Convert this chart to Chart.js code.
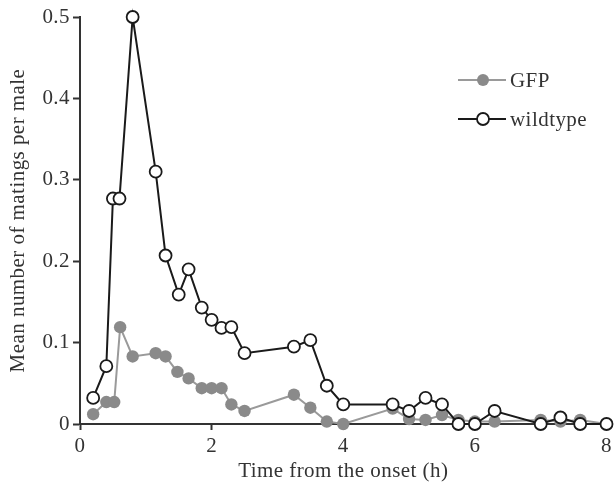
<!DOCTYPE html>
<html>
<head>
<meta charset="utf-8">
<script src="https://cdn.jsdelivr.net/npm/chart.js@4"></script>
<style>
  html, body { margin: 0; padding: 0; background: #fff; }
  #wrap { width: 616px; height: 487px; position: relative; }
</style>
</head>
<body>
<div id="wrap"><canvas id="c" width="616" height="487"></canvas></div>
<script>
// Data
const timesWildtype = [0.2, 0.4, 0.5, 0.6, 0.8, 1.15, 1.3, 1.5, 1.65, 1.85, 2.0, 2.15, 2.3, 2.5, 3.25, 3.5, 3.75, 4.0, 4.75, 5.0, 5.25, 5.5, 5.75, 6.0, 6.3, 7.0, 7.3, 7.6, 8.0];
const wildtypeValues = [0.032, 0.071, 0.277, 0.277, 0.5, 0.31, 0.207, 0.159, 0.19, 0.143, 0.128, 0.118, 0.119, 0.087, 0.095, 0.103, 0.047, 0.024, 0.024, 0.016, 0.032, 0.024, 0, 0, 0.016, 0, 0.008, 0, 0];
const timesGFP = [0.2, 0.4, 0.52, 0.61, 0.8, 1.15, 1.3, 1.48, 1.65, 1.85, 2.0, 2.15, 2.3, 2.5, 3.25, 3.5, 3.75, 4.0, 4.75, 5.0, 5.25, 5.5, 5.75, 6.0, 6.3, 7.0, 7.3, 7.6, 8.0];
const gfpValues = [0.012, 0.027, 0.027, 0.119, 0.083, 0.087, 0.083, 0.064, 0.056, 0.044, 0.044, 0.044, 0.024, 0.016, 0.036, 0.020, 0.003, 0, 0.019, 0.006, 0.005, 0.011, 0.005, 0.003, 0.003, 0.005, 0.003, 0.005, 0];
const seriesNames = ['GFP', 'wildtype'];
const xTitle = 'Time from the onset (h)';
const yTitle = 'Mean number of matings per male';

const FONT = "'Liberation Serif', 'Times New Roman', serif";
const FSIZE = 21;
const SPACING = '0.45px';
const AXIS = '#333333';
const GFP_LINE = '#9a9a9a';
const GFP_FILL = '#8a8a8a';
const WT_LINE = '#1a1a1a';

const toXY = (xs, ys) => xs.map((x, i) => ({ x: x, y: ys[i] }));

const spacingPlugin = {
  id: 'spacing',
  beforeLayout(chart) { chart.ctx.letterSpacing = SPACING; },
  beforeDraw(chart) { chart.ctx.letterSpacing = SPACING; }
};

const legendPlugin = {
  id: 'inlineLegend',
  afterDraw(chart) {
    const ctx = chart.ctx;
    const items = [
      { label: seriesNames[0], y: 80, line: GFP_LINE, fill: GFP_FILL, stroke: GFP_FILL, bw: 0 },
      { label: seriesNames[1], y: 119, line: WT_LINE, fill: '#ffffff', stroke: WT_LINE, bw: 1.8 }
    ];
    ctx.save();
    ctx.letterSpacing = SPACING;
    items.forEach(it => {
      ctx.strokeStyle = it.line;
      ctx.lineWidth = 2;
      ctx.beginPath();
      ctx.moveTo(458, it.y);
      ctx.lineTo(506, it.y);
      ctx.stroke();
      ctx.beginPath();
      ctx.arc(483, it.y, 6, 0, Math.PI * 2);
      ctx.fillStyle = it.fill;
      ctx.fill();
      if (it.bw) { ctx.lineWidth = it.bw; ctx.strokeStyle = it.stroke; ctx.stroke(); }
      ctx.fillStyle = AXIS;
      ctx.font = FSIZE + 'px ' + FONT;
      ctx.textBaseline = 'middle';
      ctx.textAlign = 'left';
      ctx.fillText(it.label, 510, it.y + 1);
    });
    ctx.restore();
  }
};

new Chart(document.getElementById('c'), {
  type: 'scatter',
  data: {
    datasets: [
      {
        label: seriesNames[1],
        data: toXY(timesWildtype, wildtypeValues),
        showLine: true,
        borderColor: WT_LINE,
        borderWidth: 2,
        pointRadius: 6,
        pointBorderWidth: 1.8,
        pointBackgroundColor: '#ffffff',
        pointBorderColor: WT_LINE,
        order: 0,
        clip: false
      },
      {
        label: seriesNames[0],
        data: toXY(timesGFP, gfpValues),
        showLine: true,
        borderColor: GFP_LINE,
        borderWidth: 2,
        pointRadius: 6.2,
        pointBorderWidth: 0,
        pointBackgroundColor: GFP_FILL,
        pointBorderColor: GFP_FILL,
        order: 1,
        clip: false
      }
    ]
  },
  options: {
    responsive: false,
    animation: false,
    layout: { padding: { top: 17, right: 9, left: 0, bottom: 0 } },
    plugins: { legend: { display: false }, tooltip: { enabled: false } },
    scales: {
      x: {
        type: 'linear',
        min: 0, max: 8,
        ticks: { stepSize: 2, color: AXIS, font: { family: FONT, size: FSIZE }, padding: 4, maxRotation: 0 },
        grid: { drawOnChartArea: false, drawTicks: true, tickLength: 6, tickColor: AXIS, tickWidth: 2 },
        border: { display: true, color: AXIS, width: 2 },
        title: { display: true, text: xTitle, color: AXIS, font: { family: FONT, size: FSIZE }, padding: { top: 0, bottom: 3 } },
        afterFit(scale) { scale.height = 63; }
      },
      y: {
        type: 'linear',
        min: 0, max: 0.5,
        ticks: { stepSize: 0.1, color: AXIS, font: { family: FONT, size: FSIZE }, padding: 3 },
        grid: { drawOnChartArea: false, drawTicks: true, tickLength: 7, tickColor: AXIS, tickWidth: 2 },
        border: { display: true, color: AXIS, width: 2 },
        title: { display: true, text: yTitle, color: AXIS, font: { family: FONT, size: FSIZE }, padding: { top: 6, bottom: 0 } },
        afterFit(scale) { scale.width = 80; }
      }
    }
  },
  plugins: [spacingPlugin, legendPlugin]
});
</script>
</body>
</html>
